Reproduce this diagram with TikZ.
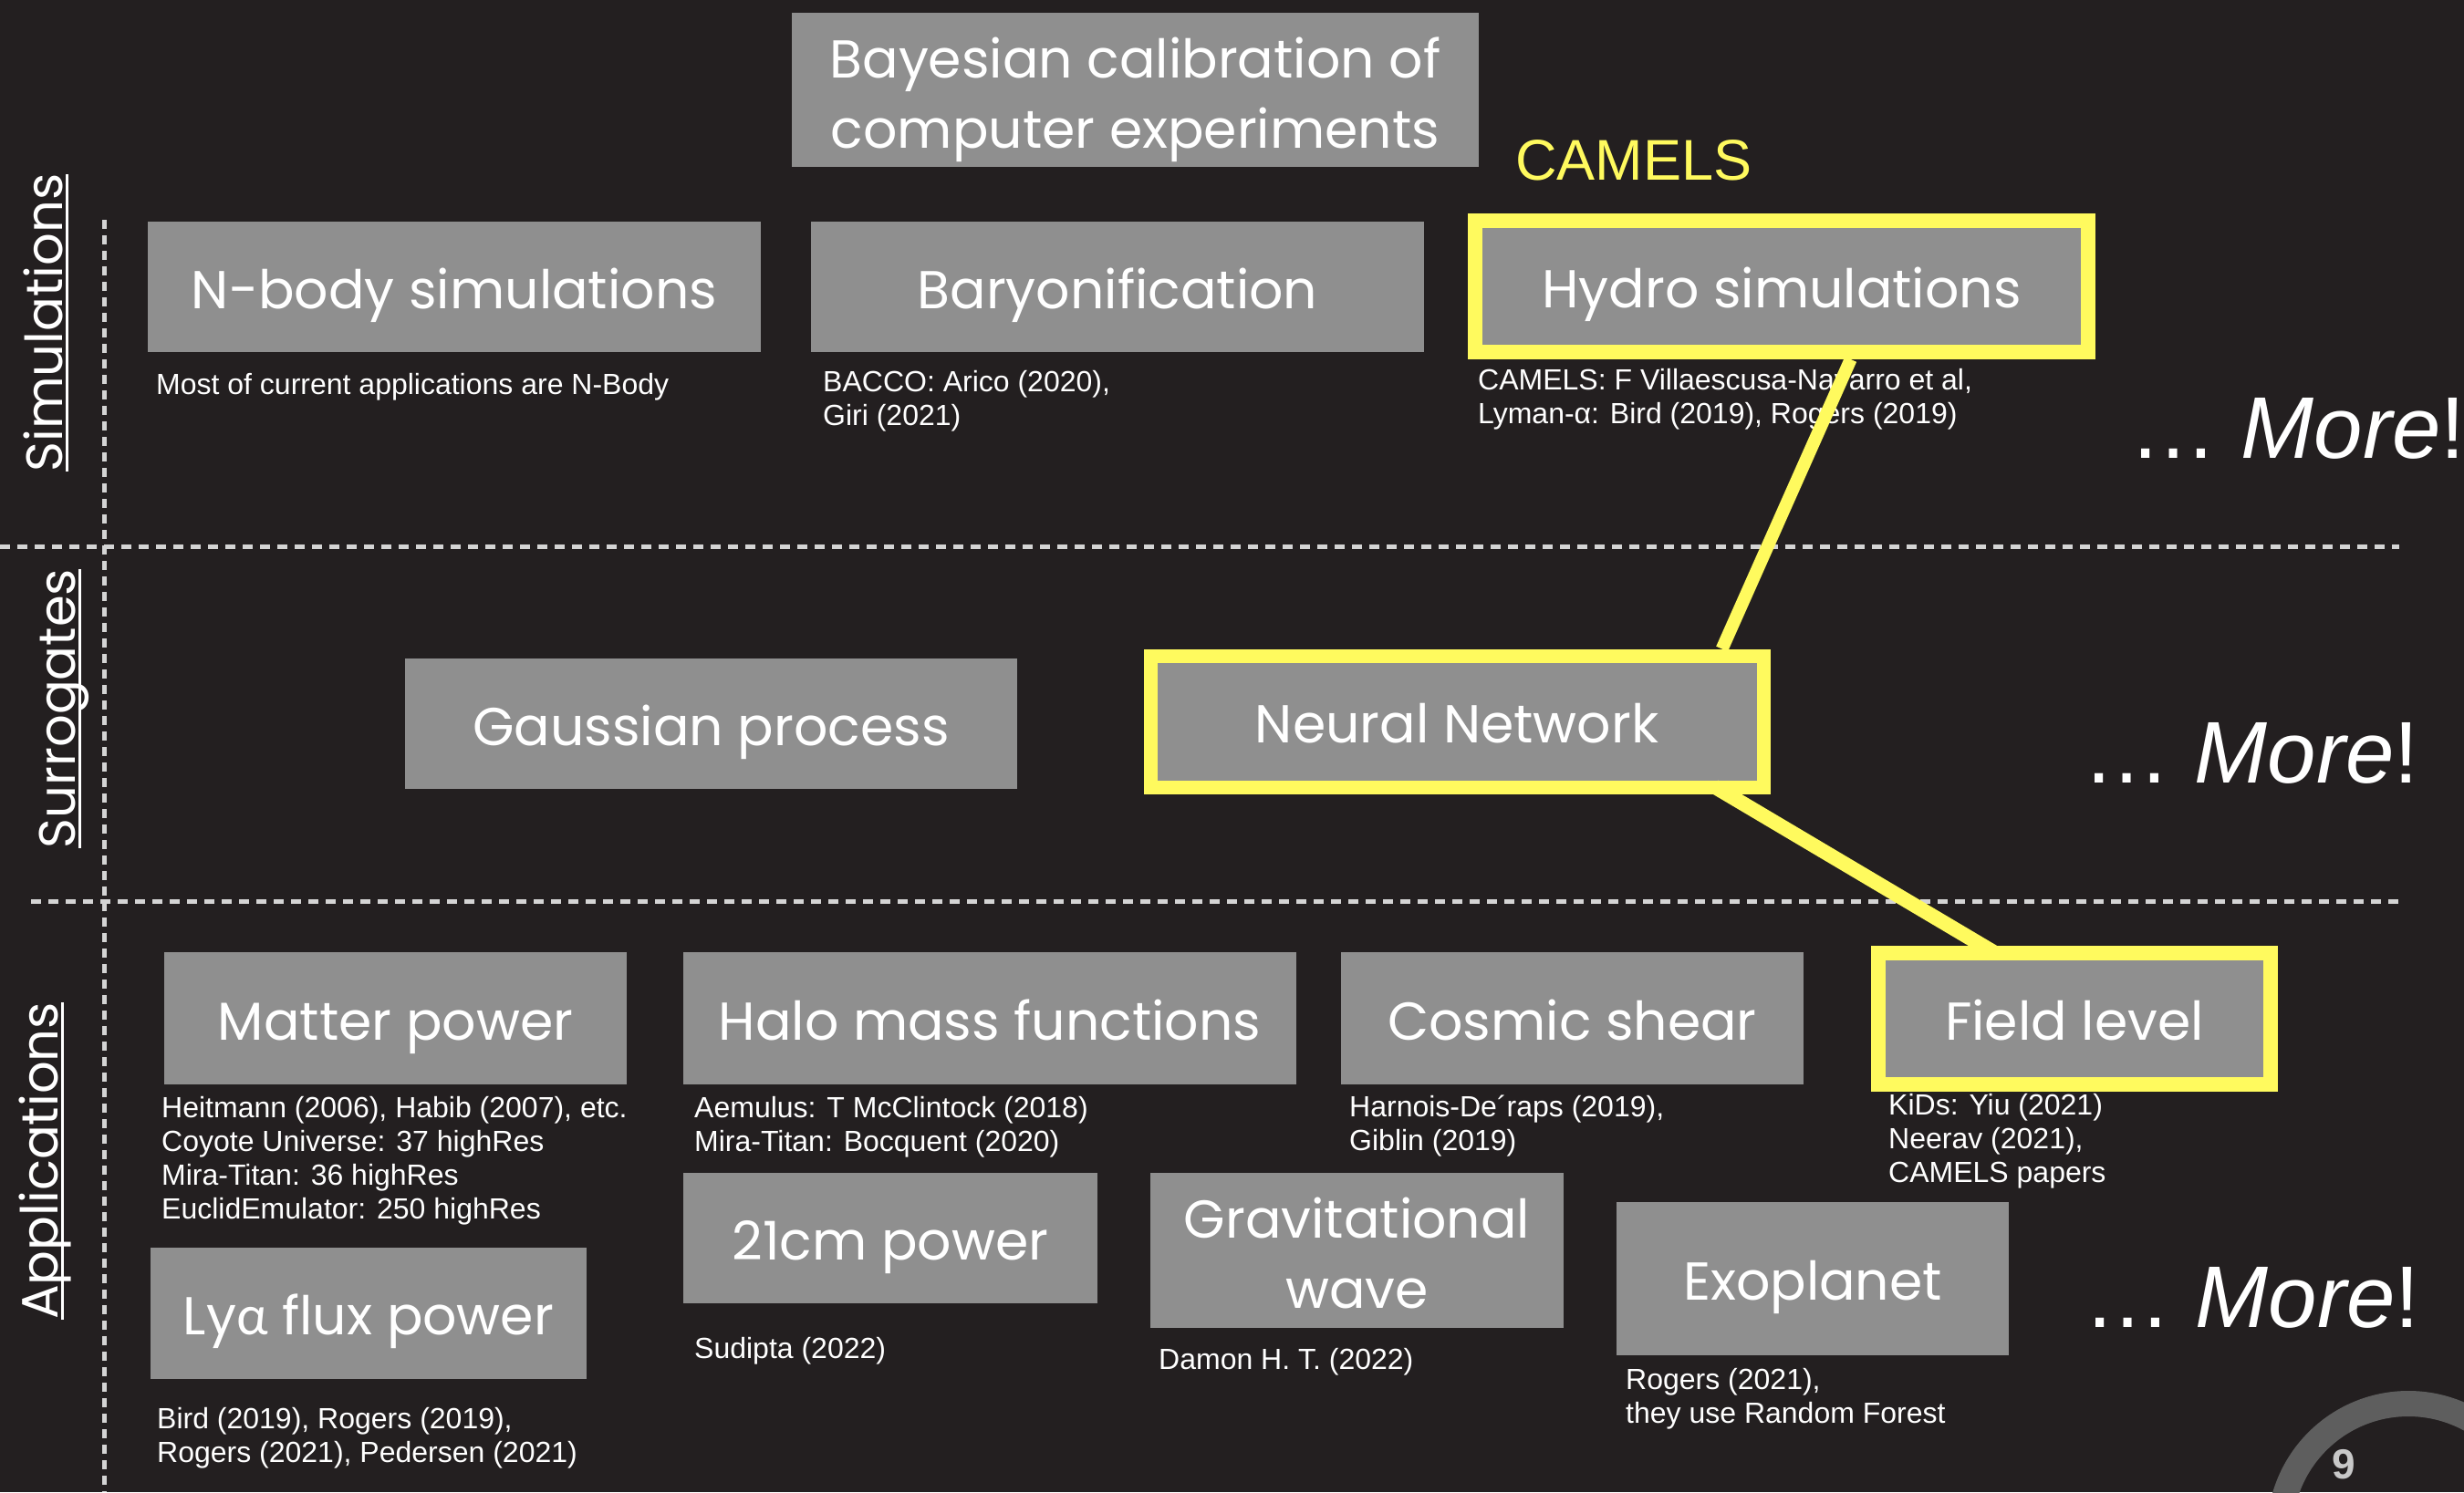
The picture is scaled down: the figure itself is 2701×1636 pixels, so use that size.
\documentclass[tikz,border=0pt]{standalone}
\usepackage{fontspec}
\setmainfont{Liberation Sans}
\newfontfamily\titlefont{Poppins}
\newfontfamily\greekfont{Lato}
\newfontfamily\capfont{Liberation Sans}
\usetikzlibrary{calc}
\definecolor{bg}{HTML}{231F20}
\definecolor{boxgray}{HTML}{8F8F8F}
\definecolor{hl}{HTML}{FFFA5E}
\definecolor{dashc}{HTML}{D4D4D4}
\definecolor{ringc}{HTML}{5E5E5E}
\definecolor{numc}{HTML}{C8C8C8}
\newcommand\capl[1]{\begin{tabular}[t]{@{}l@{}}#1\end{tabular}}
\newsavebox\ulbox
\newcommand\myul[1]{\sbox\ulbox{#1}\rlap{\rule[-6.5pt]{\wd\ulbox}{3pt}}\usebox\ulbox}
\tikzset{
  wh/.style 2 args={minimum width=#1pt, minimum height=#2pt},
  box/.style={fill=boxgray, inner sep=0pt, text=white,
    font=\titlefont\fontsize{58.5}{77}\selectfont, text height=47pt, text depth=0pt},
  hlbox/.style={box, draw=hl, line width=16pt},
  title2/.style={align=center, text=white, inner sep=0pt,
    font=\titlefont\fontsize{58.5}{77}\selectfont},
  caption/.style={anchor=base west, inner sep=0pt, text=white,
    font=\capfont\fontsize{32}{37}\selectfont},
  more/.style={anchor=base west, inner sep=0pt, text=white,
    font=\capfont\fontsize{96}{100}\selectfont},
  vlabel/.style={rotate=90, anchor=base, inner sep=0pt, text=white,
    font=\titlefont\fontsize{56}{64}\selectfont},
  dashline/.style={draw=dashc, line width=5pt, dash pattern=on 11pt off 8pt},
  link/.style={draw=hl, line width=14pt}
}
\begin{document}
\begin{tikzpicture}[x=1pt, y=-1pt]
\path[use as bounding box, fill=bg] (0,0) rectangle (2701,1636);

% separators
\draw[dashline] (0,599) -- (2630,599);
\draw[dashline] (34,988) -- (2636,988);
\draw[dashline, dash pattern=on 10pt off 7pt] (114,241) -- (114,1636);

% page ring and number
\draw[ringc, line width=28pt] (2640,1680) circle[radius=141pt];
\node[text=numc, font=\capfont\bfseries\fontsize{46}{50}\selectfont, inner sep=0pt] (pnum) at (2569,1606) {9};

% row labels
\node[vlabel] (labsim) at (68,354) {\myul{Simulations}};
\node[vlabel] (labsur) at (82,777) {\myul{Surrogates}};
\node[vlabel] (labapp) at (63,1273) {\myul{Applications}};

% top
\node[box, wh={753}{169}] (bay) at (1244.5,98.5) {};
\node[title2] (baytxt) at ([yshift=-11pt]bay.center) {Bayesian calibration of\\computer experiments};
\node[text=hl, font=\capfont\fontsize{63}{70}\selectfont, inner sep=0pt] (camels) at (1791,176) {CAMELS};

% simulations
\node[box, wh={672}{143}] (nbody) at (498,314.5) {N-body simulations};
\node[box, wh={672}{143}] (bary) at (1225,314.5) {Baryonification};
\node[hlbox, wh={672}{144}] (hydro) at (1953,314) {Hydro simulations};

% surrogates
\node[box, wh={671}{143}] (gp) at (779.5,793.5) {Gaussian process};
\node[hlbox, line width=15pt, wh={672}{144}] (nn) at (1597,791) {Neural Network};

% applications
\node[box, wh={507}{145}] (matter) at (433.5,1116.5) {Matter power};
\node[box, wh={672}{145}] (halo) at (1085,1116.5) {Halo mass functions};
\node[box, wh={507}{145}] (cosmic) at (1723.5,1116.5) {Cosmic shear};
\node[hlbox, wh={430}{144}] (field) at (2274,1117) {Field level};
\node[box, wh={478}{144}] (lya) at (404,1440) {Ly{\greekfont α} flux power};
\node[box, wh={454}{143}] (cm) at (976,1357.5) {21cm power};
\node[box, wh={453}{170}] (gw) at (1487.5,1371) {};
\node[title2] (gwtxt) at ([yshift=-3pt]gw.center) {Gravitational\\wave};
\node[box, wh={430}{168}] (exo) at (1987,1402) {Exoplanet};

% captions
\node[caption] (capnbody) at (171,432) {Most of current applications are N-Body};
\node[caption] (capbary) at (902,429) {\capl{BACCO: Arico (2020),\\Giri (2021)}};
\node[caption] (caphydro) at (1620,427) {\capl{CAMELS: F Villaescusa-Navarro et al,\\Lyman-α: Bird (2019), Rogers (2019)}};
\node[caption] (capmatter) at (177,1225) {\capl{Heitmann (2006), Habib (2007), etc.\\Coyote Universe: 37 highRes\\Mira-Titan: 36 highRes\\EuclidEmulator: 250 highRes}};
\node[caption] (caphalo) at (761,1225) {\capl{Aemulus: T McClintock (2018)\\Mira-Titan: Bocquent (2020)}};
\node[caption] (capcosmic) at (1479,1224) {\capl{Harnois-De´raps (2019),\\Giblin (2019)}};
\node[caption] (capfield) at (2070,1222) {\capl{KiDs: Yiu (2021)\\Neerav (2021),\\CAMELS papers}};
\node[caption] (caplya) at (172,1566) {\capl{Bird (2019), Rogers (2019),\\Rogers (2021), Pedersen (2021)}};
\node[caption] (capcm) at (761,1489) {Sudipta (2022)};
\node[caption] (capgw) at (1270,1501) {Damon H. T. (2022)};
\node[caption] (capexo) at (1782,1523) {\capl{Rogers (2021),\\they use Random Forest}};

% more
\node[more] (more1) at (2334,502) {… \textit{More}!};
\node[more] (more2) at (2283,858) {… \textit{More}!};
\node[more] (more3) at (2284,1455) {… \textit{More}!};

% connectors
\coordinate (h1) at ($(hydro.south west)!0.61!(hydro.south east)$);
\coordinate (n1) at ($(nn.north west)!0.923!(nn.north east)$);
\coordinate (n2) at ($(nn.south west)!0.911!(nn.south east)+(0,-8)$);
\coordinate (f1) at ($(field.north west)!0.305!(field.north east)+(0,8)$);
\draw[link] (h1) -- (n1);
\draw[link, line width=16pt] (n2) -- (f1);
\end{tikzpicture}
\end{document}
